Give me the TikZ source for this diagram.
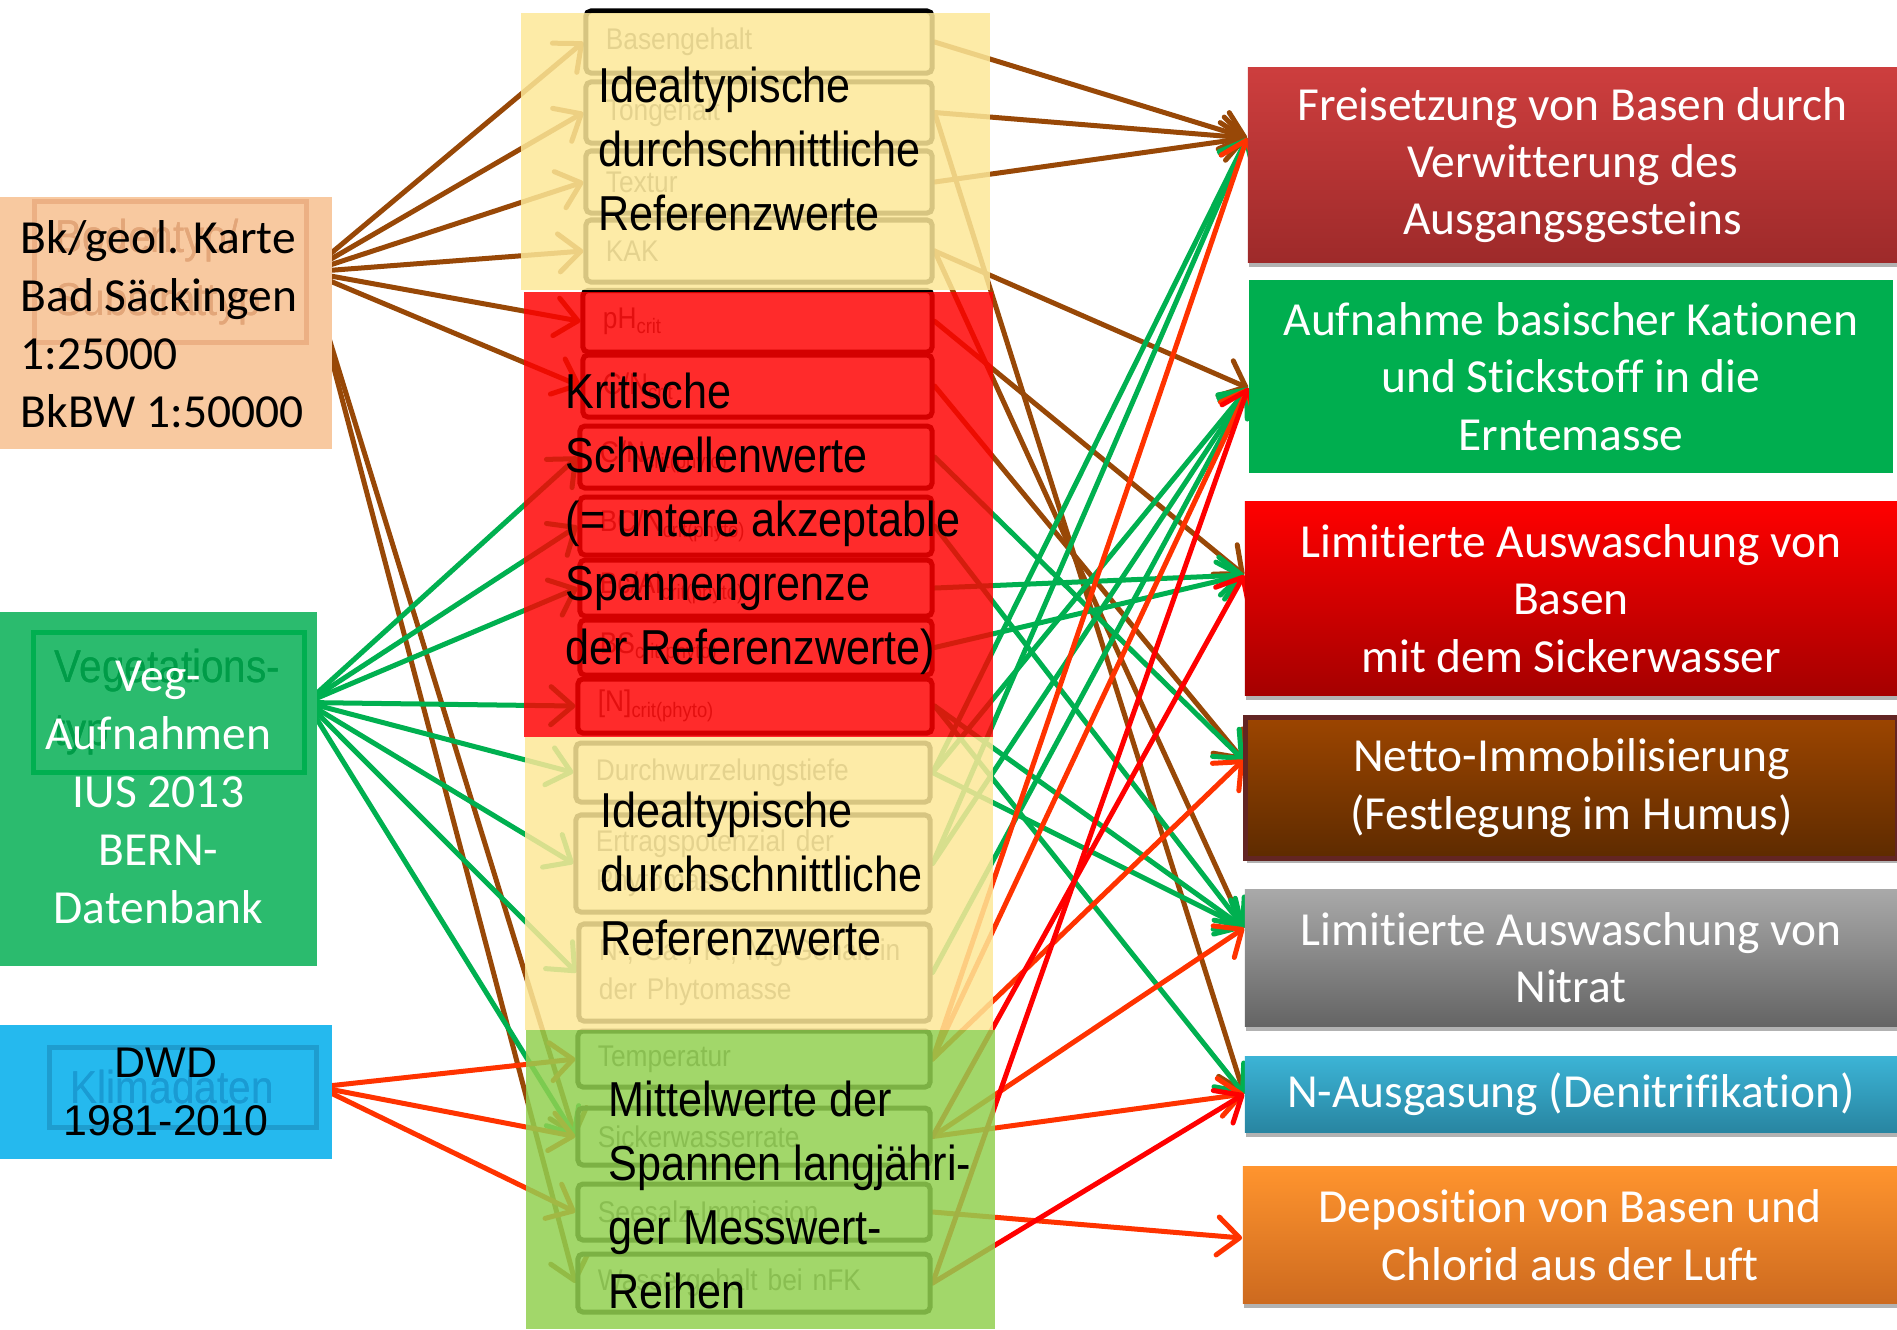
\documentclass[tikz,border=0pt]{standalone}
\usepackage{fontspec}
\setmainfont[Ligatures=NoCommon]{Carlito}
\newfontfamily\narrowfont[FakeStretch=0.88]{Liberation Sans}
\newfontfamily\arialfont{Liberation Sans}
\usetikzlibrary{arrows.meta,calc,shadows}
\pgfdeclarelayer{bglayer}
\pgfdeclarelayer{arrowlayer}
\pgfdeclarelayer{boxlayer}
\pgfdeclarelayer{panellayer}
\pgfsetlayers{bglayer,arrowlayer,boxlayer,panellayer,main}

\definecolor{cBrown}{HTML}{984807}
\definecolor{cGreen}{HTML}{00B050}
\definecolor{cOrRed}{HTML}{FF3300}
\definecolor{cRed}{HTML}{FF0000}
\definecolor{pYellow}{RGB}{253,232,152}
\definecolor{pRed}{RGB}{255,0,0}
\definecolor{pGreen}{HTML}{92D050}
\definecolor{lOrange}{HTML}{F8C9A0}
\definecolor{lGreen}{HTML}{2BBB6E}
\definecolor{lBlue}{HTML}{25B9EE}
\definecolor{iOrangeB}{HTML}{ECB084}
\definecolor{iOrangeT}{HTML}{E3A679}
\definecolor{iGreenB}{HTML}{00AF50}
\definecolor{iGreenT}{HTML}{009C48}
\definecolor{iBlueB}{HTML}{1E9DCF}
\definecolor{iBlueT}{HTML}{1A9BD3}
\definecolor{labelgray}{HTML}{595959}
\definecolor{freiT}{HTML}{CD3E3E}
\definecolor{freiB}{HTML}{9E2A2A}
\definecolor{aufnF}{HTML}{00AE4F}
\definecolor{limbT}{HTML}{FF0000}
\definecolor{limbB}{HTML}{A50000}
\definecolor{nettoT}{HTML}{9C4500}
\definecolor{nettoB}{HTML}{5E2B00}
\definecolor{nettoD}{HTML}{632523}
\definecolor{nitrT}{HTML}{A9A9A9}
\definecolor{nitrB}{HTML}{646464}
\definecolor{nausT}{HTML}{3CB4D6}
\definecolor{nausB}{HTML}{2885A1}
\definecolor{depoT}{HTML}{FF942E}
\definecolor{depoB}{HTML}{CD6A1F}

\newcommand{\mbx}[6]{%
  \pgfmathsetmacro\bw{(#3-#2)/100}%
  \pgfmathsetmacro\bh{(#5-#4)/100}%
  \pgfmathsetmacro\bcx{(#2+#3)/2}%
  \pgfmathsetmacro\bcy{(#4+#5)/2}%
  \pgfmathsetmacro\btw{(#3-#2-40)/100}%
  \node[smallbox, minimum width=\bw cm, minimum height=\bh cm, text width=\btw cm] (#1) at (\bcx,\bcy) {#6};}
\newcommand{\rbx}[7]{%
  \pgfmathsetmacro\bw{(#3-#2)/100}%
  \pgfmathsetmacro\bh{(#5-#4)/100}%
  \pgfmathsetmacro\bcx{(#2+#3)/2}%
  \pgfmathsetmacro\bcy{(#4+#5)/2}%
  \node[rbox, #6, minimum width=\bw cm, minimum height=\bh cm] (#1) at (\bcx,\bcy) {#7};}

\begin{document}
\begin{tikzpicture}[x=0.01cm, y=-0.01cm,
  smallbox/.style={draw=black, line width=0.05cm, rounded corners=0.05cm, inner xsep=0.2cm, inner ysep=0pt, align=left, text=labelgray, font=\narrowfont\fontsize{8.5pt}{11.1pt}\selectfont},
  innerbox/.style={line width=0.05cm, inner xsep=0.21cm, inner ysep=0pt, align=left, font=\narrowfont\fontsize{13.1pt}{17.9pt}\selectfont},
  panel/.style={draw=none, inner sep=0pt, outer sep=0pt},
  bigtext/.style={inner sep=0pt, align=left, text=black, font=\narrowfont\fontsize{13.95pt}{18.2pt}\selectfont},
  lefttext/.style={inner sep=0pt, align=left, text=black, font=\fontsize{13.5pt}{16.5pt}\selectfont},
  rbox/.style={inner sep=0pt, align=center, text=white, font=\fontsize{13.5pt}{16.3pt}\selectfont},
  rshadow/.style={drop shadow={shadow xshift=0.01cm, shadow yshift=-0.05cm, opacity=0.3, fill=black}},
  conn/.style={line width=0.05cm, line cap=round, line join=round, -{Straight Barb[length=0.22cm, width=0.38cm, round]}},
  brownc/.style={conn, draw=cBrown},
  greenc/.style={conn, draw=cGreen},
  orc/.style={conn, draw=cOrRed},
  redc/.style={conn, draw=cRed}]

\useasboundingbox (0,0) rectangle (1897,1329);
\begin{pgfonlayer}{bglayer}
  \fill[white] (0,0) rectangle (1897,1329);
\end{pgfonlayer}

% small boxes (under translucent panels)
\begin{pgfonlayer}{boxlayer}
\mbx{bas}{586}{932}{11}{73}{Basengehalt}
\mbx{ton}{586}{932}{82}{143}{Tongehalt}
\mbx{tex}{586}{932}{151}{213}{Textur}
\mbx{kak}{586}{932}{220}{282}{KAK}
\mbx{ph}{583}{932}{290.5}{352}{pH\textsubscript{crit}}
\mbx{cn}{583}{932}{355}{417}{C/N\textsubscript{crit}}
\mbx{cnp}{580}{932}{426}{488}{C/N\textsubscript{crit(phyto)}}
\mbx{bcn}{580}{932}{497}{555}{BC/N\textsubscript{crit(phyto)}}
\mbx{bcal}{580}{932}{560}{616}{Bc/Al\textsubscript{crit(phyto)}}
\mbx{bs}{580}{932}{620}{675}{BS\textsubscript{crit(phyto)}}
\mbx{nphy}{578}{932}{679}{733}{[N]\textsubscript{crit(phyto)}}
\mbx{dw}{576}{930}{743}{802}{Durchwurzelungstiefe}
\mbx{ert}{576}{930}{815}{912}{Ertragspotenzial der\\Phytomasse}
\mbx{ncak}{579}{930}{924}{1021}{N-, Ca-, K-, Mg-Gehalt in\\der Phytomasse}
\mbx{temp}{578}{930}{1031}{1087}{Temperatur}
\mbx{sick}{578}{930}{1108}{1165}{Sickerwasserrate}
\mbx{sees}{578}{930}{1184}{1240}{Seesalz-Immission}
\mbx{wass}{578}{930}{1254}{1312}{Wassergehalt bei nFK}
\end{pgfonlayer}

% inner boxes of the left sources (anchors for the connectors)
\node[innerbox, draw=iOrangeB, text=iOrangeT, minimum width=2.71cm, minimum height=1.40cm, text width=2.29cm] (boden) at (170.5,272) {Bodentyp/\\Substrattyp};
\node[innerbox, draw=iGreenB, text=iGreenT, minimum width=2.70cm, minimum height=1.39cm, text width=2.28cm] (veget) at (169,702.5) {Vegetations-\\typ};
\node[innerbox, draw=iBlueB, text=iBlueT, minimum width=2.66cm, minimum height=0.80cm, text width=2.24cm] (klima) at (183,1087) {Klimadaten};

% right boxes
\rbx{frei}{1248}{1897}{68}{262}{top color=freiT, bottom color=freiB, rshadow}{Freisetzung von Basen durch\\Verwitterung des\\Ausgangsgesteins}
\rbx{aufn}{1249}{1893}{280}{473}{fill=aufnF}{Aufnahme basischer Kationen\\und Stickstoff in die\\Erntemasse}
\rbx{limb}{1245}{1897}{502}{695}{top color=limbT, bottom color=limbB, rshadow}{Limitierte Auswaschung von\\Basen\\mit dem Sickerwasser}
\rbx{netto}{1246}{1897}{718}{858}{top color=nettoT, bottom color=nettoB, draw=nettoD, line width=0.05cm, rshadow}{Netto-Immobilisierung\\(Festlegung im Humus)}
\rbx{nitrat}{1245}{1897}{890}{1026}{top color=nitrT, bottom color=nitrB, rshadow}{Limitierte Auswaschung von\\Nitrat}
\rbx{naus}{1245}{1897}{1056}{1132}{top color=nausT, bottom color=nausB, rshadow}{N-Ausgasung (Denitrifikation)}
\rbx{depo}{1243}{1897}{1167}{1303}{top color=depoT, bottom color=depoB, rshadow}{Deposition von Basen und\\Chlorid aus der Luft}

\coordinate (freiIn) at ([yshift=0.27cm]frei.west);
\coordinate (aufnIn) at ([yshift=-0.115cm]aufn.west);
\coordinate (limbIn) at ([yshift=0.235cm]limb.west);
\coordinate (nettoIn) at ([yshift=0.28cm]netto.west);
\coordinate (nitratIn) at ([yshift=0.30cm]nitrat.west);
\coordinate (nausIn) at (naus.west);
\coordinate (depoIn) at ([yshift=-0.03cm]depo.west);

% connectors
\begin{pgfonlayer}{arrowlayer}
\foreach \t in {bas,ton,tex,kak,ph,cn,sick,wass} \draw[brownc] (boden.east) -- (\t.west);
\foreach \t in {cnp,bcn,bcal,nphy,dw,ert,ncak,sick} \draw[greenc] (veget.east) -- (\t.west);
\foreach \t in {temp,sick,sees} \draw[orc] (klima.east) -- (\t.west);
\foreach \s/\t in {bas/freiIn,ton/freiIn,tex/freiIn,kak/aufnIn,ton/nausIn,kak/nitratIn,ph/limbIn,cn/nettoIn}
  \draw[brownc] (\s.east) -- (\t);
\foreach \s/\t in {cnp/nettoIn,bcn/nitratIn,bcal/limbIn,bs/limbIn,nphy/nitratIn,nphy/nausIn,dw/freiIn,dw/aufnIn,dw/nitratIn,ert/freiIn,ert/aufnIn,ncak/aufnIn}
  \draw[greenc] (\s.east) -- (\t);
\foreach \s/\t in {temp/freiIn,temp/aufnIn,temp/nettoIn,sick/nitratIn,sick/nausIn,sees/depoIn}
  \draw[orc] (\s.east) -- (\t);
\foreach \s/\t in {sick/limbIn,wass/aufnIn,wass/nausIn}
  \draw[redc] (\s.east) -- (\t);
\end{pgfonlayer}

% panels
\begin{pgfonlayer}{panellayer}
\node[panel, fill=pYellow, fill opacity=0.85, minimum width=4.69cm, minimum height=2.77cm] (ypanel) at (755.5,151.5) {};
\node[panel, fill=pRed, fill opacity=0.83, minimum width=4.69cm, minimum height=4.445cm] (rpanel) at (758.5,514.75) {};
\node[panel, fill=pYellow, fill opacity=0.85, minimum width=4.68cm, minimum height=2.93cm] (ylpanel) at (759,883.5) {};
\node[panel, fill=pGreen, fill opacity=0.85, minimum width=4.69cm, minimum height=2.99cm] (gpanel) at (760.5,1179.5) {};
\node[panel, fill=lOrange, minimum width=3.32cm, minimum height=2.52cm] (opanel) at (166,323) {};
\node[panel, fill=lGreen, minimum width=3.17cm, minimum height=3.54cm] (lgpanel) at (158.5,789) {};
\node[panel, fill=lBlue, minimum width=3.32cm, minimum height=1.34cm] (bpanel) at (166,1092) {};
\end{pgfonlayer}

% inner boxes shown above the opaque panels
\node[innerbox, draw=iOrangeB, text=iOrangeT, minimum width=2.71cm, minimum height=1.40cm, text width=2.29cm] (bodenvis) at (170.5,272) {Bodentyp/\\Substrattyp};
\node[innerbox, draw=iGreenB, text=iGreenT, minimum width=2.70cm, minimum height=1.39cm, text width=2.28cm] (vegetvis) at (169,702.5) {Vegetations-\\typ};
\node[innerbox, draw=iBlueB, text=iBlueT, minimum width=2.66cm, minimum height=0.80cm, text width=2.24cm] (klimavis) at (183,1087) {Klimadaten};

% texts
\node[lefttext, anchor=north west] (bktext) at (20,212) {\strut Bk/geol. Karte\\Bad Säckingen\\1:25000\\BkBW 1:50000};
\node[lefttext, align=center, text=white, anchor=north] (vegtext) at (158.5,650) {\strut Veg-\\Aufnahmen\\IUS 2013\\BERN-\\Datenbank};
\node[inner sep=0pt, align=center, anchor=north, font=\arialfont\fontsize{12.2pt}{16.5pt}\selectfont] (dwdtext) at (166,1036.4) {\strut DWD\\1981-2010};

\node[bigtext, anchor=north west] (t1) at (598,57.2) {\strut Idealtypische\\durchschnittliche\\Referenzwerte};
\node[bigtext, anchor=north west] (t2) at (565,363.2) {\strut Kritische\\Schwellenwerte\\(= untere akzeptable\\Spannengrenze\\der Referenzwerte)};
\node[bigtext, anchor=north west] (t3) at (600,782.2) {\strut Idealtypische\\durchschnittliche\\Referenzwerte};
\node[bigtext, anchor=north west] (t4) at (608,1071.2) {\strut Mittelwerte der\\Spannen langjähri-\\ger Messwert-\\Reihen};
\end{tikzpicture}
\end{document}
